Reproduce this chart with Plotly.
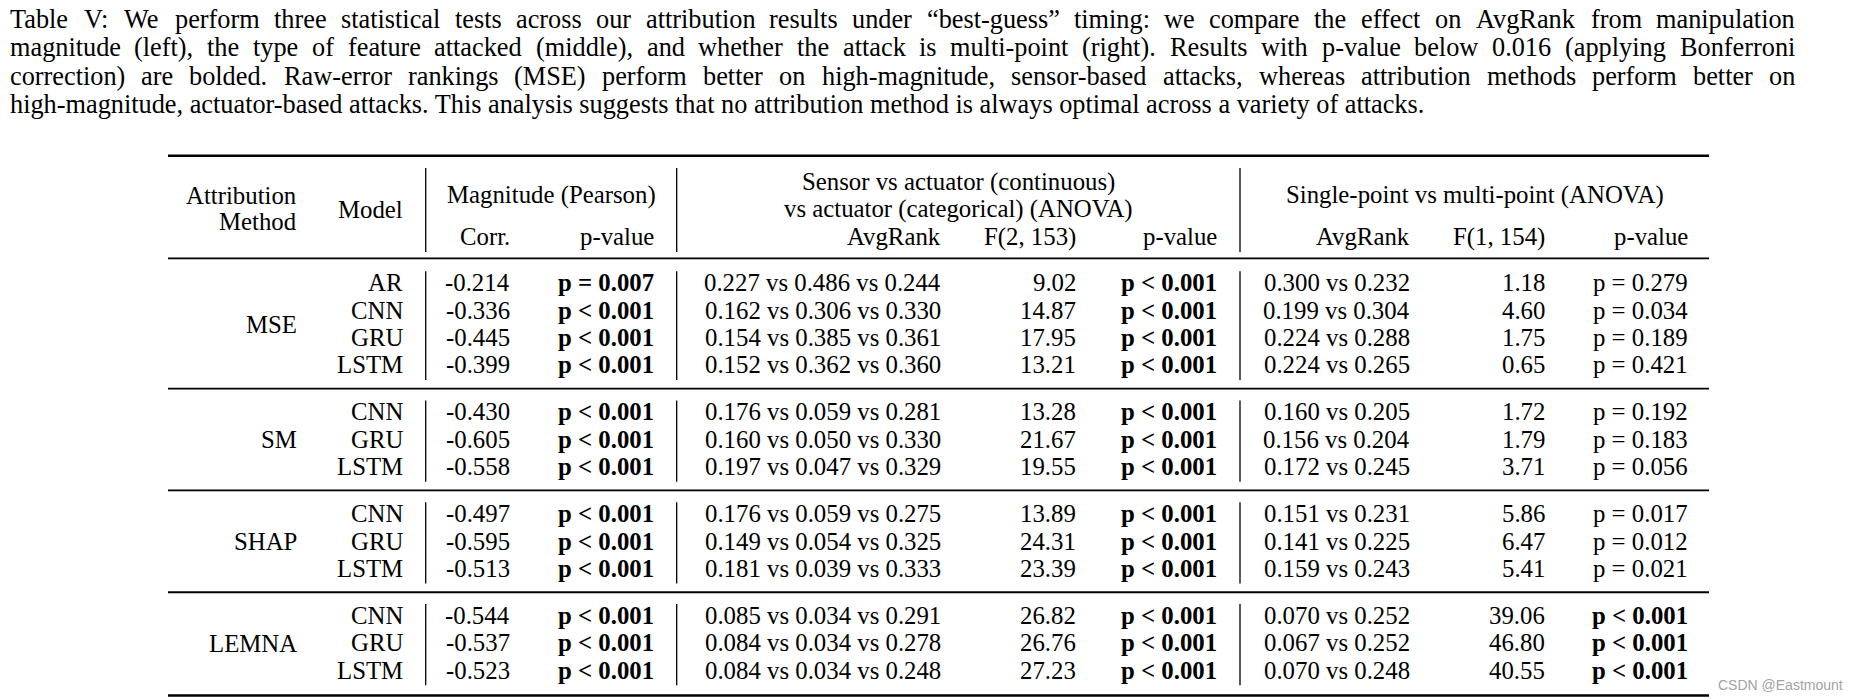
import plotly.graph_objects as go

# ---------------- data ----------------
caption_lines = [
    "Table V: We perform three statistical tests across our attribution results under \u201cbest-guess\u201d timing: we compare the effect on AvgRank from manipulation",
    "magnitude (left), the type of feature attacked (middle), and whether the attack is multi-point (right). Results with p-value below 0.016 (applying Bonferroni",
    "correction) are bolded. Raw-error rankings (MSE) perform better on high-magnitude, sensor-based attacks, whereas attribution methods perform better on",
    "high-magnitude, actuator-based attacks. This analysis suggests that no attribution method is always optimal across a variety of attacks.",
]

methods = ["MSE", "SM", "SHAP", "LEMNA"]
models = [["AR", "CNN", "GRU", "LSTM"],
          ["CNN", "GRU", "LSTM"],
          ["CNN", "GRU", "LSTM"],
          ["CNN", "GRU", "LSTM"]]

corr = [-0.214, -0.336, -0.445, -0.399,
        -0.430, -0.605, -0.558,
        -0.497, -0.595, -0.513,
        -0.544, -0.537, -0.523]
p_mag = ["= 0.007", "< 0.001", "< 0.001", "< 0.001",
         "< 0.001", "< 0.001", "< 0.001",
         "< 0.001", "< 0.001", "< 0.001",
         "< 0.001", "< 0.001", "< 0.001"]
p_mag_bold = [True] * 13

sensor_avg = [(0.227, 0.486, 0.244), (0.162, 0.306, 0.330), (0.154, 0.385, 0.361), (0.152, 0.362, 0.360),
              (0.176, 0.059, 0.281), (0.160, 0.050, 0.330), (0.197, 0.047, 0.329),
              (0.176, 0.059, 0.275), (0.149, 0.054, 0.325), (0.181, 0.039, 0.333),
              (0.085, 0.034, 0.291), (0.084, 0.034, 0.278), (0.084, 0.034, 0.248)]
f_sensor = [9.02, 14.87, 17.95, 13.21,
            13.28, 21.67, 19.55,
            13.89, 24.31, 23.39,
            26.82, 26.76, 27.23]
p_sensor = ["< 0.001"] * 13
p_sensor_bold = [True] * 13

single_avg = [(0.300, 0.232), (0.199, 0.304), (0.224, 0.288), (0.224, 0.265),
              (0.160, 0.205), (0.156, 0.204), (0.172, 0.245),
              (0.151, 0.231), (0.141, 0.225), (0.159, 0.243),
              (0.070, 0.252), (0.067, 0.252), (0.070, 0.248)]
f_single = [1.18, 4.60, 1.75, 0.65,
            1.72, 1.79, 3.71,
            5.86, 6.47, 5.41,
            39.06, 46.80, 40.55]
p_single = ["= 0.279", "= 0.034", "= 0.189", "= 0.421",
            "= 0.192", "= 0.183", "= 0.056",
            "= 0.017", "= 0.012", "= 0.021",
            "< 0.001", "< 0.001", "< 0.001"]
p_single_bold = [False] * 10 + [True] * 3

header_mag = "Magnitude (Pearson)"
header_sensor = ["Sensor vs actuator (continuous)", "vs actuator (categorical) (ANOVA)"]
header_single = "Single-point vs multi-point (ANOVA)"
sub_mag = ["Corr.", "p-value"]
sub_sensor = ["AvgRank", "F(2, 153)", "p-value"]
sub_single = ["AvgRank", "F(1, 154)", "p-value"]
watermark = "CSDN @Eastmount"

# ---------------- layout constants ----------------
W, H = 1858, 700
SERIF = "Liberation Serif, Times New Roman, serif"
FS = 24.8
FS_CAP = 26.3
INK = "#000000"

CAP_LEFT, CAP_RIGHT = 9.5, 1795
CAP_Y0, CAP_DY = 19.5, 28.3

TAB_L, TAB_R = 168, 1709
TOP_RULE, HEAD_RULE = 155.7, 258.3
ROW0, ROW_H, GROUP_GAP = 282.7, 27.4, 47.0
RULE_OFF = 23.7

X_METHOD = 296.7
X_MODEL = 402.7
X_CORR = 510
X_PMAG = 654.3
X_SAVG = 941
X_FS = 1076
X_PS = 1216.7
X_GAVG = 1410
X_FG = 1545
X_PG = 1687.7
V_LINES = [425.7, 676.7, 1240]

TW = {' ': 250, '!': 333, '"': 408, '%': 833, '&': 778, "'": 333, '(': 333, ')': 333, ',': 250,
      '-': 333, '.': 250, '/': 278, ':': 278, ';': 278, '<': 564, '=': 564, '>': 564, '?': 444,
      'A': 722, 'B': 667, 'C': 667, 'D': 722, 'E': 611, 'F': 556, 'G': 722, 'H': 722, 'I': 333,
      'J': 389, 'K': 722, 'L': 611, 'M': 889, 'N': 722, 'O': 722, 'P': 556, 'Q': 722, 'R': 667,
      'S': 556, 'T': 611, 'U': 722, 'V': 722, 'W': 944, 'X': 722, 'Y': 722, 'Z': 611,
      'a': 444, 'b': 500, 'c': 444, 'd': 500, 'e': 444, 'f': 333, 'g': 500, 'h': 500, 'i': 278,
      'j': 278, 'k': 500, 'l': 278, 'm': 778, 'n': 500, 'o': 500, 'p': 500, 'q': 500, 'r': 333,
      's': 389, 't': 278, 'u': 500, 'v': 500, 'w': 722, 'x': 500, 'y': 500, 'z': 444,
      '\u201c': 444, '\u201d': 444}


def text_width(s, size):
    return sum(TW.get(c, 500) for c in s) / 1000.0 * size


annotations = []
shapes = []


def add_text(x, y, s, anchor="right", size=FS, bold=False, color=INK, family=SERIF):
    if bold:
        s = "<b>" + s + "</b>"
    annotations.append(dict(
        x=x, y=y, xref="x", yref="y", text=s, showarrow=False,
        xanchor=anchor, yanchor="middle", borderpad=0, borderwidth=0,
        font=dict(family=family, size=size, color=color)))


def esc(s):
    return s.replace("<", "&lt;").replace(">", "&gt;")


def hline(y, width):
    shapes.append(dict(type="line", xref="x", yref="y", x0=TAB_L, x1=TAB_R, y0=y, y1=y,
                       line=dict(color=INK, width=width)))


def vline(x, y0, y1):
    shapes.append(dict(type="line", xref="x", yref="y", x0=x, x1=x, y0=y0, y1=y1,
                       line=dict(color=INK, width=1.3)))


# ---------------- caption (justified) ----------------
for li, line in enumerate(caption_lines):
    y = CAP_Y0 + li * CAP_DY
    words = line.split(" ")
    if li < len(caption_lines) - 1:
        widths = [text_width(w, FS_CAP) for w in words]
        gap = (CAP_RIGHT - CAP_LEFT - sum(widths)) / (len(words) - 1)
        x = CAP_LEFT
        for w, wd in zip(words, widths):
            add_text(x, y, w, anchor="left", size=FS_CAP)
            x += wd + gap
    else:
        add_text(CAP_LEFT, y, line, anchor="left", size=FS_CAP)

# ---------------- header ----------------
add_text(X_METHOD, 195, "Attribution")
add_text(X_METHOD, 221.7, "Method")
add_text(X_MODEL, 209.3, "Model")
add_text((V_LINES[0] + V_LINES[1]) / 2 + 0.5, 195, header_mag, anchor="center")
add_text((V_LINES[1] + V_LINES[2]) / 2 + 0.3, 181.7, header_sensor[0], anchor="center")
add_text((V_LINES[1] + V_LINES[2]) / 2 + 0.3, 209, header_sensor[1], anchor="center")
add_text((V_LINES[2] + TAB_R) / 2, 195, header_single, anchor="center")
SUB_Y = 236.7
for x, s in zip([X_CORR, X_PMAG], sub_mag):
    add_text(x, SUB_Y, s)
for x, s in zip([X_SAVG, X_FS, X_PS], sub_sensor):
    add_text(x, SUB_Y, s)
for x, s in zip([X_GAVG, X_FG, X_PG], sub_single):
    add_text(x, SUB_Y, s)

# ---------------- rules ----------------
hline(TOP_RULE, 2.6)
hline(HEAD_RULE, 1.7)
for x in V_LINES:
    vline(x, 168, 252)

# ---------------- body ----------------
idx = 0
y = ROW0
for gi, (meth, mods) in enumerate(zip(methods, models)):
    ys = []
    for mi, mod in enumerate(mods):
        ys.append(y)
        add_text(X_MODEL, y, mod)
        add_text(X_CORR, y, "%.3f" % corr[idx])
        add_text(X_PMAG, y, esc("p " + p_mag[idx]), bold=p_mag_bold[idx])
        add_text(X_SAVG, y, " vs ".join("%.3f" % v for v in sensor_avg[idx]))
        add_text(X_FS, y, "%.2f" % f_sensor[idx])
        add_text(X_PS, y, esc("p " + p_sensor[idx]), bold=p_sensor_bold[idx])
        add_text(X_GAVG, y, " vs ".join("%.3f" % v for v in single_avg[idx]))
        add_text(X_FG, y, "%.2f" % f_single[idx])
        add_text(X_PG, y, esc("p " + p_single[idx]), bold=p_single_bold[idx])
        idx += 1
        if mi < len(mods) - 1:
            y += ROW_H
    add_text(X_METHOD, (ys[0] + ys[-1]) / 2 + 0.5, meth)
    for x in V_LINES:
        vline(x, ys[0] - 11.5, ys[-1] + 15)
    rule_y = ys[-1] + RULE_OFF + (1.5 if gi == len(methods) - 1 else 0)
    hline(rule_y, 2.6 if gi == len(methods) - 1 else 1.9)
    y = ys[-1] + GROUP_GAP

# watermark
add_text(1780, 685, watermark, anchor="center", size=14, color="#a3a3a3",
         family="Liberation Sans, Arial, sans-serif")

fig = go.Figure()
fig.add_trace(go.Scatter(x=[0, W], y=[0, H], mode="markers", marker=dict(opacity=0),
                         hoverinfo="skip", showlegend=False))
fig.update_layout(
    width=W, height=H, margin=dict(l=0, r=0, t=0, b=0, pad=0),
    paper_bgcolor="white", plot_bgcolor="white",
    xaxis=dict(range=[0, W], visible=False, fixedrange=True),
    yaxis=dict(range=[H, 0], visible=False, fixedrange=True),
    annotations=annotations, shapes=shapes, showlegend=False,
)
fig.write_html(
    "out.html",
    config={"displayModeBar": False},
    post_script="document.body.style.margin='0';document.body.style.overflow='hidden';",
)
